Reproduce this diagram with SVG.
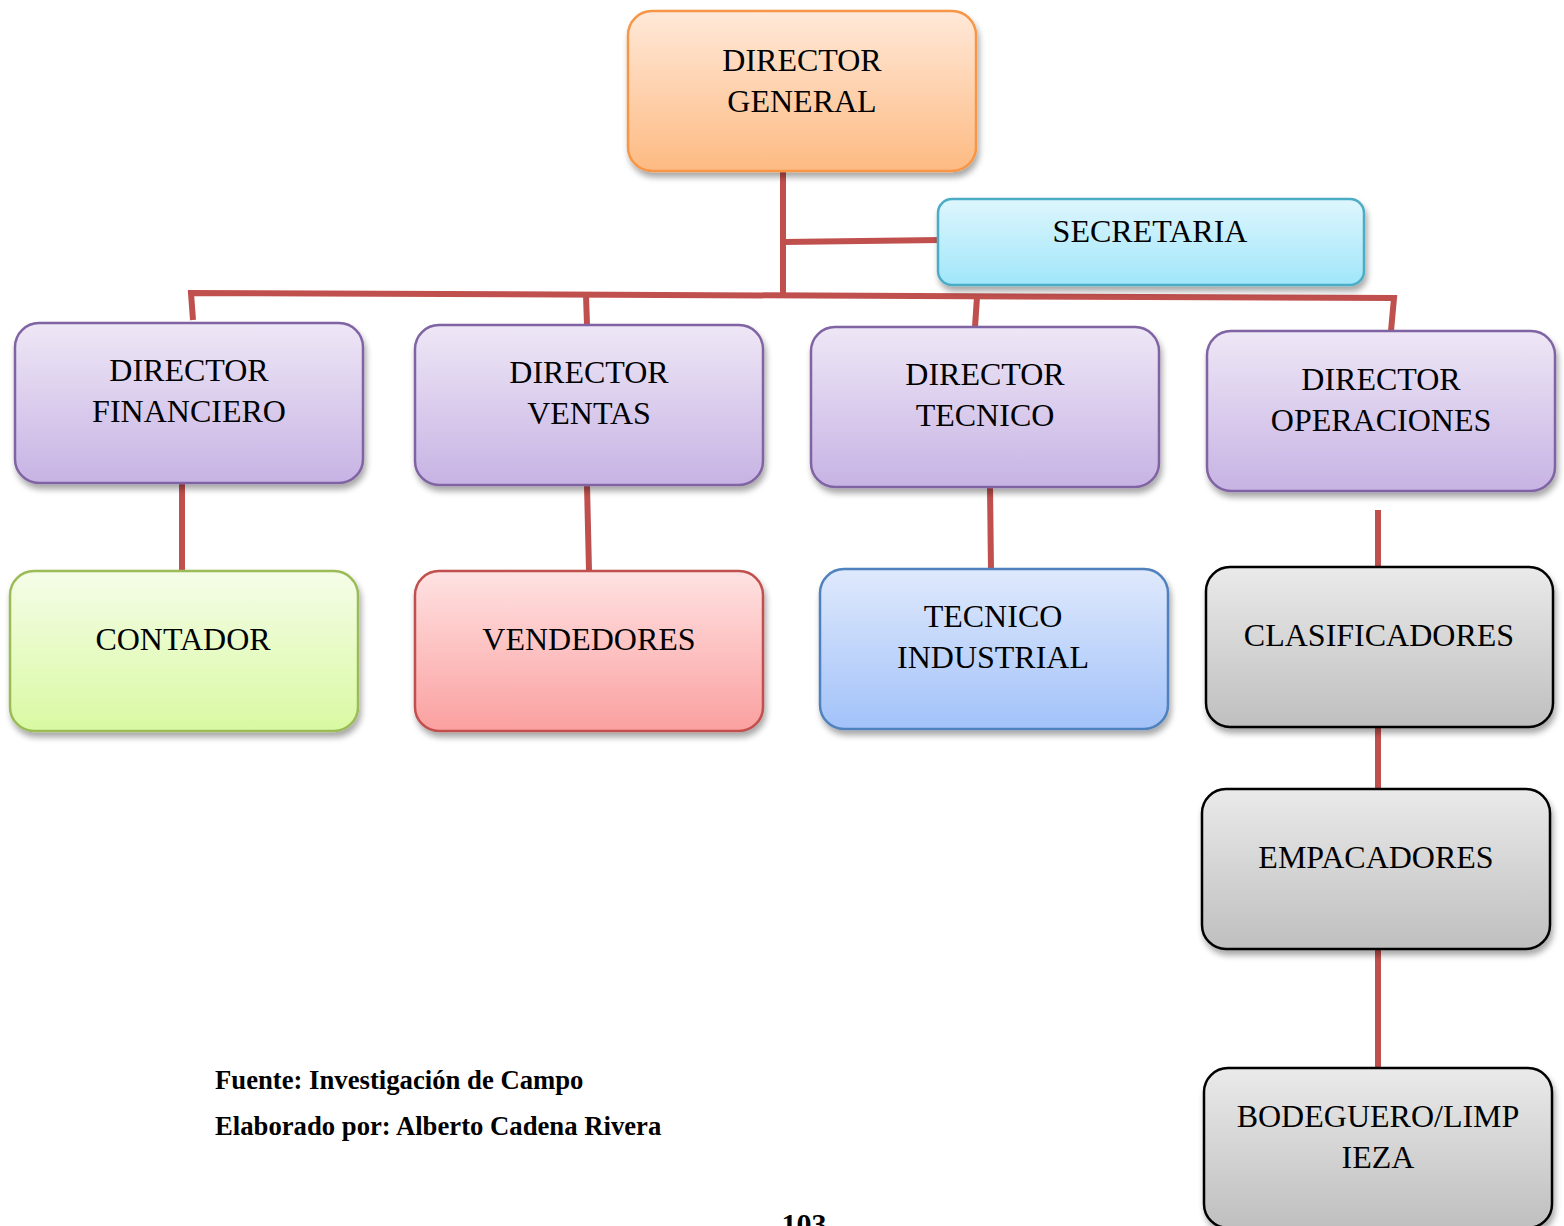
<svg xmlns="http://www.w3.org/2000/svg" width="1564" height="1226" viewBox="0 0 1564 1226">
<defs>
<linearGradient id="gOr" x1="0" y1="0" x2="0" y2="1"><stop offset="0" stop-color="#FFE9D9"/><stop offset="1" stop-color="#FDBA82"/></linearGradient>
<linearGradient id="gCy" x1="0" y1="0" x2="0" y2="1"><stop offset="0" stop-color="#DEF6FD"/><stop offset="1" stop-color="#A0E6FA"/></linearGradient>
<linearGradient id="gPu" x1="0" y1="0" x2="0" y2="1"><stop offset="0" stop-color="#EEE7F6"/><stop offset="1" stop-color="#C7B3E4"/></linearGradient>
<linearGradient id="gGr" x1="0" y1="0" x2="0" y2="1"><stop offset="0" stop-color="#F5FDE8"/><stop offset="1" stop-color="#D9F9A2"/></linearGradient>
<linearGradient id="gRd" x1="0" y1="0" x2="0" y2="1"><stop offset="0" stop-color="#FFE2E2"/><stop offset="1" stop-color="#FBA0A0"/></linearGradient>
<linearGradient id="gBl" x1="0" y1="0" x2="0" y2="1"><stop offset="0" stop-color="#DFE9FC"/><stop offset="1" stop-color="#A2C2F9"/></linearGradient>
<linearGradient id="gGy" x1="0" y1="0" x2="0" y2="1"><stop offset="0" stop-color="#EAEAEA"/><stop offset="1" stop-color="#BFBFBF"/></linearGradient>
<filter id="sh" x="-10%" y="-10%" width="120%" height="130%">
<feGaussianBlur in="SourceAlpha" stdDeviation="3"/>
<feOffset dx="2" dy="5" result="b"/>
<feComponentTransfer><feFuncA type="linear" slope="0.35"/></feComponentTransfer>
<feMerge><feMergeNode/><feMergeNode in="SourceGraphic"/></feMerge>
</filter>
</defs>
<style>
.box{stroke-width:2.5;filter:url(#sh)}
.t{font-family:"Liberation Serif","Times New Roman",serif;font-size:32px;fill:#000;text-anchor:middle}
.f{font-family:"Liberation Serif","Times New Roman",serif;font-size:26.7px;font-weight:bold;fill:#000}
.c{stroke:#C0504D;stroke-width:6;fill:none}
</style>
<rect width="1564" height="1226" fill="#fff"/>
<g id="connectors">
<line class="c" x1="783" y1="171" x2="783" y2="296"/>
<line class="c" x1="783" y1="242" x2="941" y2="240"/>
<polyline class="c" points="193,320 191,293 1394,298 1391,331"/>
<line class="c" x1="586" y1="295" x2="587" y2="325"/>
<line class="c" x1="977" y1="297" x2="975" y2="327"/>
<line class="c" x1="182" y1="483" x2="182" y2="571"/>
<line class="c" x1="587" y1="485" x2="589" y2="571"/>
<line class="c" x1="990" y1="487" x2="991" y2="569"/>
<line class="c" x1="1378" y1="510" x2="1378" y2="567"/>
<line class="c" x1="1378" y1="727" x2="1378" y2="789"/>
<line class="c" x1="1378" y1="949" x2="1378" y2="1068"/>
</g>
<g id="director-general">
<rect class="box" x="628" y="11" width="348" height="160" rx="24" fill="url(#gOr)" stroke="#F79646"/>
<text class="t" x="802" y="71">DIRECTOR</text>
<text class="t" x="802" y="112">GENERAL</text>
</g>
<g id="secretaria">
<rect class="box" x="938" y="199" width="426" height="86" rx="14" fill="url(#gCy)" stroke="#4BACC6"/>
<text class="t" x="1150" y="242">SECRETARIA</text>
</g>
<g id="director-financiero">
<rect class="box" x="15" y="323" width="348" height="160" rx="24" fill="url(#gPu)" stroke="#8064A2"/>
<text class="t" x="189" y="381">DIRECTOR</text>
<text class="t" x="189" y="422">FINANCIERO</text>
</g>
<g id="director-ventas">
<rect class="box" x="415" y="325" width="348" height="160" rx="24" fill="url(#gPu)" stroke="#8064A2"/>
<text class="t" x="589" y="383">DIRECTOR</text>
<text class="t" x="589" y="424">VENTAS</text>
</g>
<g id="director-tecnico">
<rect class="box" x="811" y="327" width="348" height="160" rx="24" fill="url(#gPu)" stroke="#8064A2"/>
<text class="t" x="985" y="385">DIRECTOR</text>
<text class="t" x="985" y="426">TECNICO</text>
</g>
<g id="director-operaciones">
<rect class="box" x="1207" y="331" width="348" height="160" rx="24" fill="url(#gPu)" stroke="#8064A2"/>
<text class="t" x="1381" y="390">DIRECTOR</text>
<text class="t" x="1381" y="431">OPERACIONES</text>
</g>
<g id="contador">
<rect class="box" x="10" y="571" width="348" height="160" rx="24" fill="url(#gGr)" stroke="#9BBB59"/>
<text class="t" x="183" y="650">CONTADOR</text>
</g>
<g id="vendedores">
<rect class="box" x="415" y="571" width="348" height="160" rx="24" fill="url(#gRd)" stroke="#C0504D"/>
<text class="t" x="589" y="650">VENDEDORES</text>
</g>
<g id="tecnico-industrial">
<rect class="box" x="820" y="569" width="348" height="160" rx="24" fill="url(#gBl)" stroke="#4F81BD"/>
<text class="t" x="993" y="627">TECNICO</text>
<text class="t" x="993" y="668">INDUSTRIAL</text>
</g>
<g id="clasificadores">
<rect class="box" x="1206" y="567" width="347" height="160" rx="24" fill="url(#gGy)" stroke="#000"/>
<text class="t" x="1379" y="646">CLASIFICADORES</text>
</g>
<g id="empacadores">
<rect class="box" x="1202" y="789" width="348" height="160" rx="24" fill="url(#gGy)" stroke="#000"/>
<text class="t" x="1376" y="868">EMPACADORES</text>
</g>
<g id="bodeguero">
<rect class="box" x="1204" y="1068" width="348" height="160" rx="24" fill="url(#gGy)" stroke="#000"/>
<text class="t" x="1378" y="1127">BODEGUERO/LIMP</text>
<text class="t" x="1378" y="1168">IEZA</text>
</g>
<text class="f" x="215" y="1089">Fuente: Investigación de Campo</text>
<text class="f" x="215" y="1135">Elaborado por: Alberto Cadena Rivera</text>
<text class="f" x="804" y="1234" text-anchor="middle" style="font-size:30px">103</text>
</svg>
